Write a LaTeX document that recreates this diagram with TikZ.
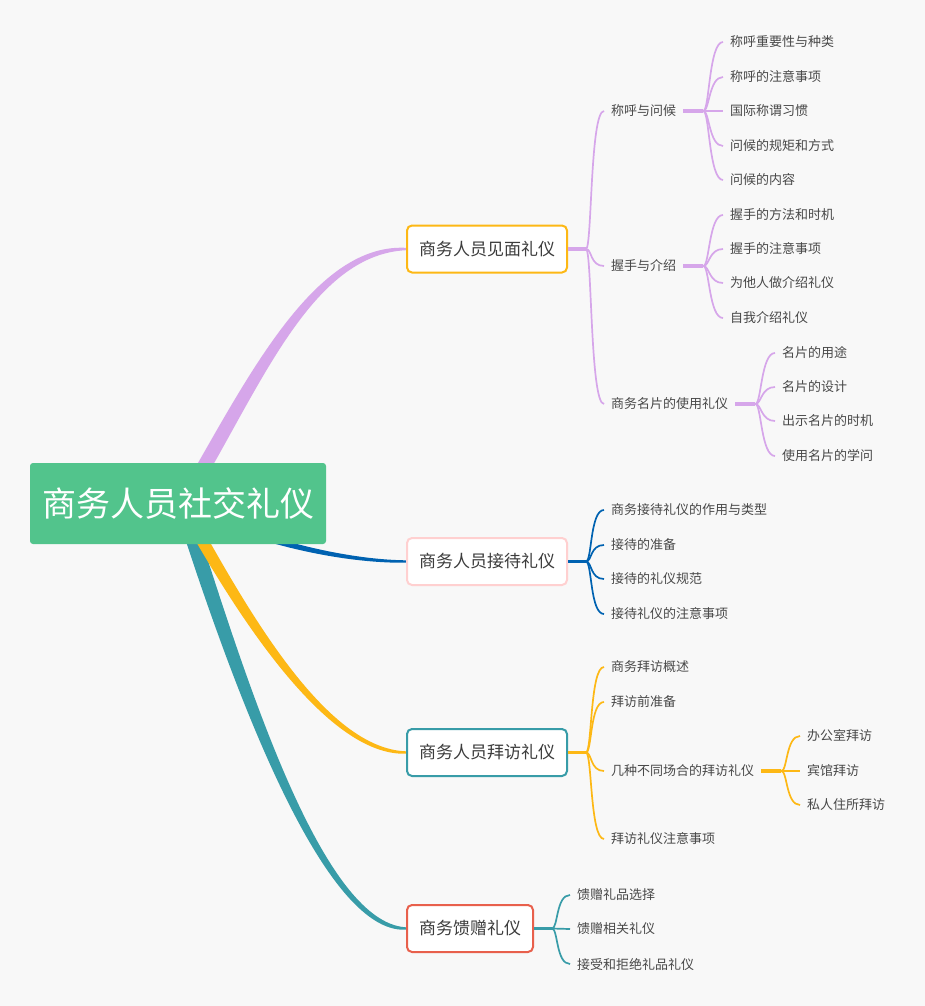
\documentclass[tikz,border=0pt]{standalone}
\usepackage{fontspec}
\setmainfont{Noto Sans CJK SC}
\usetikzlibrary{calc,backgrounds}

\definecolor{pagebg}{RGB}{248,248,248}
\definecolor{rootgreen}{RGB}{82,196,140}
\definecolor{lilac}{RGB}{214,166,234}
\definecolor{seablue}{RGB}{0,98,177}
\definecolor{amber}{RGB}{253,184,21}
\definecolor{petrol}{RGB}{56,156,168}
\definecolor{coral}{RGB}{232,96,76}
\definecolor{blush}{RGB}{255,208,208}
\definecolor{leafgray}{RGB}{72,72,72}
\definecolor{boxgray}{RGB}{60,60,60}

\begin{document}
\begin{tikzpicture}[x=1pt,y=-1pt,
    topic/.style={draw=#1, line width=2pt, rounded corners=5pt, fill=white, anchor=west,
      minimum height=47pt, inner xsep=12pt, text=boxgray, font=\fontsize{17}{19}\selectfont},
    leaf/.style={anchor=west, inner xsep=7pt, inner ysep=2pt, yshift=-1pt, text=leafgray,
      font=\fontsize{13}{15}\selectfont},
    stub/.style={draw=#1, line width=3.5pt},
    twig/.style={draw=#1, line width=1.7pt}]

      \useasboundingbox (0,0) rectangle (925,1006);

      % the centre topic and the four main topics
      \node[fill=rootgreen, rounded corners=3pt, minimum width=296pt, minimum height=81pt,
        text=white, font=\fontsize{34}{37}\selectfont] (root) at (178,503.5) {商务人员社交礼仪};

      \node[topic=amber] (meet) at (406,249) {商务人员见面礼仪};
      \node[topic=blush] (host) at (406,561.5) {商务人员接待礼仪};
      \node[topic=petrol] (visit) at (406,752.5) {商务人员拜访礼仪};
      \node[topic=coral] (gift) at (406,928.5) {商务馈赠礼仪};

      % thick tapered branches, behind everything
      \begin{scope}[on background layer]
      \fill[pagebg] (0,0) rectangle (925,1006);

      \fill[lilac] ($(root.center)+(-4,1)$) .. controls ($(root.center)+(64,-114)$) and ($(meet.west)+(-96,-6)$) .. ($(meet.west)+(0,-1.2)$)
        -- ($(meet.west)+(0,1.2)$) .. controls ($(meet.west)+(-96,6)$) and ($(root.center)+(82,-114)$) .. ($(root.center)+(12,1)$) -- cycle;

      \fill[seablue] ($(root.center)+(4,-3)$) .. controls ($(root.center)+(72,32.5)$) and ($(host.west)+(-66,-2)$) .. ($(host.west)+(0,-1.2)$)
        -- ($(host.west)+(0,1.2)$) .. controls ($(host.west)+(-66,2)$) and ($(root.center)+(72,39.5)$) .. ($(root.center)+(4,5)$) -- cycle;

      \fill[petrol] ($(root.center)+(12,1)$) .. controls ($(root.center)+(65,166)$) and ($(gift.west)+(-86,-6)$) .. ($(gift.west)+(0,-1.2)$)
        -- ($(gift.west)+(0,1.2)$) .. controls ($(gift.west)+(-86,6)$) and ($(root.center)+(49,166)$) .. ($(root.center)+(-4,1)$) -- cycle;

      \fill[amber] ($(root.center)+(11,1)$) .. controls ($(root.center)+(69,106)$) and ($(visit.west)+(-81,-4)$) .. ($(visit.west)+(0,-1.2)$)
        -- ($(visit.west)+(0,1.2)$) .. controls ($(visit.west)+(-81,4)$) and ($(root.center)+(55,106)$) .. ($(root.center)+(-3,1)$) -- cycle;
      \end{scope}

      %% 见面
      \coordinate (meetfork) at ($(meet.east)+(18,0)$);
      \draw[stub=lilac] (meet.east) -- (meetfork);
      \node[leaf] (call) at (604,110) {称呼与问候};
      \node[leaf] (shake) at (604,265) {握手与介绍};
      \node[leaf] (card) at (604,403) {商务名片的使用礼仪};
      \draw[twig=lilac] (meetfork) .. controls +(6,0) and +(-14,0) .. (call.west);
      \draw[twig=lilac] (meetfork) .. controls +(6,0) and +(-14,0) .. (shake.west);
      \draw[twig=lilac] (meetfork) .. controls +(6,0) and +(-14,0) .. (card.west);

      \coordinate (callfork) at ($(call.east)+(20,0)$);
      \draw[stub=lilac] (call.east) -- (callfork);
      \node[leaf] (call1) at (723,41) {称呼重要性与种类};
      \node[leaf] (call2) at (723,76) {称呼的注意事项};
      \node[leaf] (call3) at (723,110) {国际称谓习惯};
      \node[leaf] (call4) at (723,145) {问候的规矩和方式};
      \node[leaf] (call5) at (723,179) {问候的内容};
      \draw[twig=lilac] (callfork) .. controls +(6,0) and +(-14,0) .. (call1.west);
      \draw[twig=lilac] (callfork) .. controls +(6,0) and +(-14,0) .. (call2.west);
      \draw[twig=lilac] (callfork) -- (call3.west);
      \draw[twig=lilac] (callfork) .. controls +(6,0) and +(-14,0) .. (call4.west);
      \draw[twig=lilac] (callfork) .. controls +(6,0) and +(-14,0) .. (call5.west);

      \coordinate (shakefork) at ($(shake.east)+(20,0)$);
      \draw[stub=lilac] (shake.east) -- (shakefork);
      \node[leaf] (shake1) at (723,214) {握手的方法和时机};
      \node[leaf] (shake2) at (723,248) {握手的注意事项};
      \node[leaf] (shake3) at (723,282) {为他人做介绍礼仪};
      \node[leaf] (shake4) at (723,317) {自我介绍礼仪};
      \draw[twig=lilac] (shakefork) .. controls +(6,0) and +(-14,0) .. (shake1.west);
      \draw[twig=lilac] (shakefork) .. controls +(6,0) and +(-14,0) .. (shake2.west);
      \draw[twig=lilac] (shakefork) .. controls +(6,0) and +(-14,0) .. (shake3.west);
      \draw[twig=lilac] (shakefork) .. controls +(6,0) and +(-14,0) .. (shake4.west);

      \coordinate (cardfork) at ($(card.east)+(20,0)$);
      \draw[stub=lilac] (card.east) -- (cardfork);
      \node[leaf] (card1) at (775,352) {名片的用途};
      \node[leaf] (card2) at (775,386) {名片的设计};
      \node[leaf] (card3) at (775,420) {出示名片的时机};
      \node[leaf] (card4) at (775,455) {使用名片的学问};
      \draw[twig=lilac] (cardfork) .. controls +(6,0) and +(-14,0) .. (card1.west);
      \draw[twig=lilac] (cardfork) .. controls +(6,0) and +(-14,0) .. (card2.west);
      \draw[twig=lilac] (cardfork) .. controls +(6,0) and +(-14,0) .. (card3.west);
      \draw[twig=lilac] (cardfork) .. controls +(6,0) and +(-14,0) .. (card4.west);

      %% 接待
      \coordinate (hostfork) at ($(host.east)+(18,0)$);
      \draw[stub=seablue] (host.east) -- (hostfork);
      \node[leaf] (host1) at (604,509) {商务接待礼仪的作用与类型};
      \node[leaf] (host2) at (604,544) {接待的准备};
      \node[leaf] (host3) at (604,578) {接待的礼仪规范};
      \node[leaf] (host4) at (604,613) {接待礼仪的注意事项};
      \draw[twig=seablue] (hostfork) .. controls +(6,0) and +(-14,0) .. (host1.west);
      \draw[twig=seablue] (hostfork) .. controls +(6,0) and +(-14,0) .. (host2.west);
      \draw[twig=seablue] (hostfork) .. controls +(6,0) and +(-14,0) .. (host3.west);
      \draw[twig=seablue] (hostfork) .. controls +(6,0) and +(-14,0) .. (host4.west);

      %% 拜访
      \coordinate (visitfork) at ($(visit.east)+(18,0)$);
      \draw[stub=amber] (visit.east) -- (visitfork);
      \node[leaf] (visit1) at (604,666) {商务拜访概述};
      \node[leaf] (visit2) at (604,701) {拜访前准备};
      \node[leaf] (place) at (604,770) {几种不同场合的拜访礼仪};
      \node[leaf] (visit4) at (604,838) {拜访礼仪注意事项};
      \draw[twig=amber] (visitfork) .. controls +(6,0) and +(-14,0) .. (visit1.west);
      \draw[twig=amber] (visitfork) .. controls +(6,0) and +(-14,0) .. (visit2.west);
      \draw[twig=amber] (visitfork) .. controls +(6,0) and +(-14,0) .. (place.west);
      \draw[twig=amber] (visitfork) .. controls +(6,0) and +(-14,0) .. (visit4.west);

      \coordinate (placefork) at ($(place.east)+(20,0)$);
      \draw[stub=amber] (place.east) -- (placefork);
      \node[leaf] (place1) at (800,735) {办公室拜访};
      \node[leaf] (place2) at (800,770) {宾馆拜访};
      \node[leaf] (place3) at (800,804) {私人住所拜访};
      \draw[twig=amber] (placefork) .. controls +(6,0) and +(-14,0) .. (place1.west);
      \draw[twig=amber] (placefork) -- (place2.west);
      \draw[twig=amber] (placefork) .. controls +(6,0) and +(-14,0) .. (place3.west);

      %% 馈赠
      \coordinate (giftfork) at ($(gift.east)+(18,0)$);
      \draw[stub=petrol] (gift.east) -- (giftfork);
      \node[leaf] (gift1) at (570,894) {馈赠礼品选择};
      \node[leaf] (gift2) at (570,928) {馈赠相关礼仪};
      \node[leaf] (gift3) at (570,963) {接受和拒绝礼品礼仪};
      \draw[twig=petrol] (giftfork) .. controls +(6,0) and +(-14,0) .. (gift1.west);
      \draw[twig=petrol] (giftfork) -- (gift2.west);
      \draw[twig=petrol] (giftfork) .. controls +(6,0) and +(-14,0) .. (gift3.west);

    \end{tikzpicture}
\end{document}
